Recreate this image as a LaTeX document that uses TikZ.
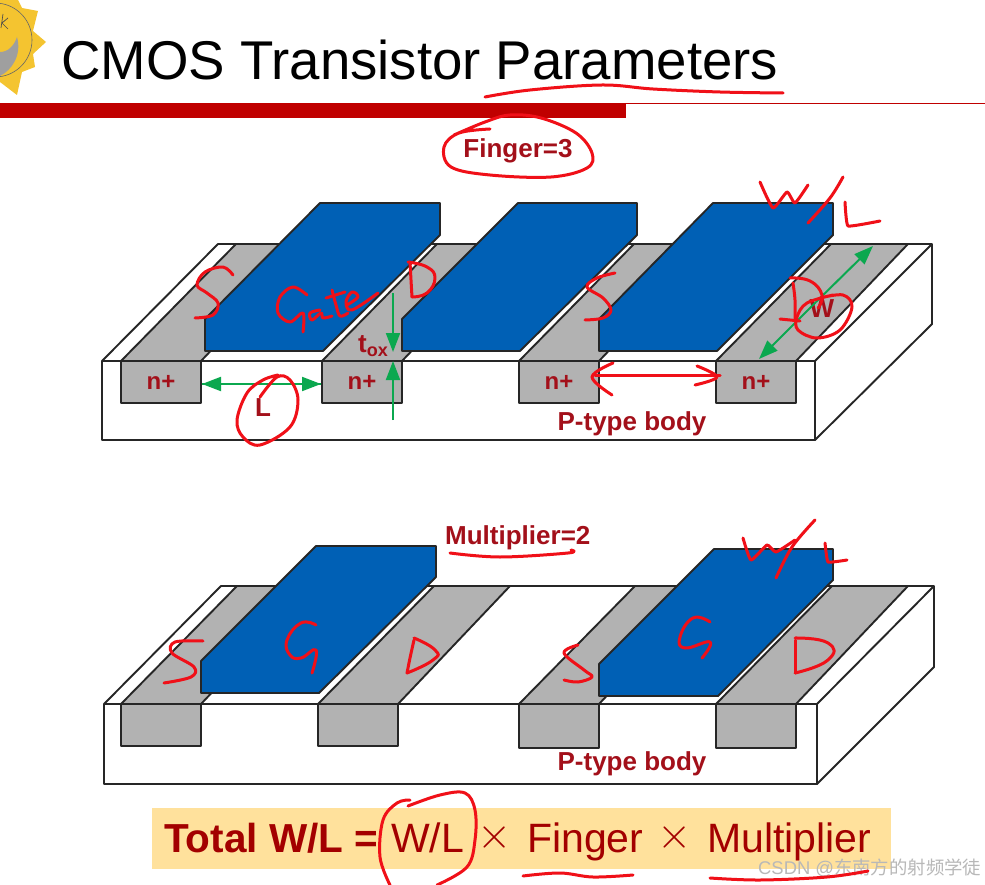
\documentclass[tikz,border=0pt]{standalone}
\usepackage{fontspec}
\setmainfont{Liberation Sans}
\newfontfamily\cjkfont{Noto Sans CJK SC}
\usetikzlibrary{arrows.meta}
\definecolor{dred}{HTML}{A3101A}
\definecolor{gateblue}{HTML}{0060B5}
\definecolor{stripgray}{HTML}{B2B2B2}
\definecolor{inkred}{HTML}{F01018}
\definecolor{barred}{HTML}{C00000}
\definecolor{gfill}{HTML}{FFE19C}
\definecolor{arrowgreen}{HTML}{0BA84F}
\definecolor{sunyellow}{HTML}{F4C430}
\tikzset{
  solid3d/.style={draw=black!85,line width=1.9pt,line join=round},
  bodyface/.style={solid3d,fill=white},
  stripface/.style={solid3d,fill=stripgray},
  gateface/.style={draw=black!85,line width=1.9pt,line join=round,fill=gateblue},
  ink/.style={draw=inkred,line width=3pt,line cap=round,line join=round},
  lbl/.style={text=dred,font=\bfseries\fontsize{26}{28}\selectfont,inner sep=0pt},
  nplus/.style={text=dred,font=\bfseries\fontsize{24}{26}\selectfont,inner sep=0pt},
  dimarrow/.style={draw=arrowgreen,line width=2pt,-{Triangle[length=19pt,width=14pt]}},
  ptxt/.style={text=barred!85!black,font=\fontsize{41}{44}\selectfont,inner sep=0pt,anchor=base west},
  timestxt/.style={text=barred!85!black,inner sep=0pt,anchor=center},
}
\begin{document}
\begin{tikzpicture}[x=1pt,y=-1pt]
\useasboundingbox (0,0) rectangle (985,885);
\clip (0,0) rectangle (985,885);
\fill[white] (0,0) rectangle (985,885);

% logo
\fill[sunyellow] (0,0) -- (18,0) -- (22,8) -- (38,11) -- (33,31) -- (46,42) -- (33,54) -- (35,67) -- (22,72) -- (17,95) -- (0,82) -- cycle;
\fill[sunyellow] (-5,40) circle[radius=37];
\draw[black!60,line width=.6pt] (-5,40) circle[radius=37];
\fill[gray!75] (17,37) .. controls (22,55) and (12,70) .. (0,76) -- (0,52) .. controls (8,52) and (14,46) .. (17,37) -- cycle;
\draw[black!70,line width=.7pt] (3,14) -- (1,28) (8,18) -- (2,23) -- (8,29);

% title
\node[anchor=base west,inner sep=0pt,font=\fontsize{54.6}{56}\selectfont] (title) at (61,80) {CMOS Transistor Parameters};
\fill[barred] (0,103) rectangle (626,118);
\draw[barred,line width=.8pt] (626,103) -- (985,103);

% ---------- top device ----------
\draw[bodyface] (102,361) -- (218,244) -- (932,244) -- (932,324) -- (815,440) -- (102,440) -- cycle;
\draw[solid3d] (102,361) -- (815,361) -- (932,244) (815,361) -- (815,440);
\foreach \xa/\xb in {121/201,322/402,519/599,716/796}{
  \draw[stripface] (\xa,361) -- ({\xa+115},244) -- ({\xb+112},244) -- (\xb,361) -- cycle;
  \draw[stripface] (\xa,361) rectangle (\xb,403);
}
\draw[gateface] (205,351) -- (205,319) -- (320,203) -- (440,203) -- (440,235) -- (323,351) -- cycle;
\draw[gateface] (402,351) -- (402,319) -- (518,203) -- (637,203) -- (637,235) -- (520,351) -- cycle;
\draw[gateface] (599,351) -- (599,319) -- (713,203) -- (833,203) -- (833,235) -- (717,351) -- cycle;

\node[nplus] (n1) at (161,382) {n+};
\node[nplus] (n2) at (362,382) {n+};
\node[nplus] (n3) at (559,382) {n+};
\node[nplus] (n4) at (756,382) {n+};
\node[lbl] (ptop) at (632,424) {P-type body};
\node[lbl] (finger) at (518,151) {Finger=3};
\node[lbl] (lenL) at (263,408) {L};
\node[lbl] (widW) at (822,309) {W};
\node[lbl,anchor=base west] (tox) at (358,352) {t\raisebox{-4pt}{\fontsize{18}{18}\selectfont ox}};

\coordinate (la) at (202,384); \coordinate (lb) at (321,384);
\coordinate (ta) at (393,293); \coordinate (tb) at (393,352);
\coordinate (tc) at (393,420); \coordinate (td) at (393,361);
\coordinate (wa) at (873,246); \coordinate (wb) at (759,359);
\coordinate (wmid) at (816,302);
\draw[dimarrow] (la) -- (lb);
\draw[dimarrow] (lb) -- (la);
\draw[dimarrow] (ta) -- (tb);
\draw[dimarrow] (tc) -- (td);
\draw[dimarrow] (wmid) -- (wa);
\draw[dimarrow] (wmid) -- (wb);

% ---------- bottom device ----------
\draw[bodyface] (104,704) -- (221,586) -- (934,586) -- (934,667) -- (817,784) -- (104,784) -- cycle;
\draw[solid3d] (104,704) -- (817,704) -- (934,586) (817,704) -- (817,784);
\foreach \xa/\xb/\yb in {121/201/746,318/398/746,519/599/748,716/796/748}{
  \draw[stripface] (\xa,704) -- ({\xa+116},586) -- ({\xb+112},586) -- (\xb,704) -- cycle;
  \draw[stripface] (\xa,704) rectangle (\xb,\yb);
}
\draw[gateface] (201,693) -- (201,661) -- (316,546) -- (436,546) -- (436,577) -- (319,693) -- cycle;
\draw[gateface] (599,696) -- (599,664) -- (714,549) -- (833,549) -- (833,580) -- (718,696) -- cycle;
\node[lbl] (pbot) at (632,764) {P-type body};
\node[lbl,anchor=base west] (mult) at (445,544) {Multiplier=2};

% ---------- formula ----------
\fill[gfill] (152,808) rectangle (891,869);
\node[ptxt,font=\bfseries\fontsize{40.5}{44}\selectfont] (tot) at (164,852) {Total W/L =};
\node[ptxt] (wl) at (391,852) {W/L};
\node[timestxt] (mul1) at (495,837) {\scalebox{4.4}{$\times$}};
\node[ptxt] (fing) at (527,852) {Finger};
\node[timestxt] (mul2) at (675,837) {\scalebox{4.4}{$\times$}};
\node[ptxt] (multi) at (707,852) {Multiplier};
\node[anchor=base west,inner sep=0pt,text=black!28,font=\fontsize{18.4}{20}\selectfont] (wmark) at (758,874) {CSDN @{\cjkfont 东南方的射频学徒}};

% ---------- handwriting ----------
% title underline and Finger ring
\draw[ink] plot[smooth,tension=.6] coordinates {(485,97) (530,90) (602,85) (653,89) (720,92) (783,93)};
\draw[ink] plot[smooth,tension=.6] coordinates {(490,129) (459,133) (444,147) (451,167) (490,175) (551,177) (587,168) (592,153) (576,133) (541,118) (510,115) (485,122) (454,135)};
% S Gate D
\draw[ink] plot[smooth,tension=.6] coordinates {(233,275) (223,267) (205,272) (197,285) (207,293) (218,303) (213,315) (195,318)};
\draw[ink] plot[smooth,tension=.6] coordinates {(307,295) (293,287) (280,297) (278,313) (290,322) (303,313) (303,332)};
\draw[ink] plot[smooth,tension=.6] coordinates {(320,310) (310,313) (312,320) (321,313) (323,318) (332,316)};
\draw[ink] plot[smooth,tension=.6] coordinates {(332,290) (336,305) (340,316) (348,313)};
\draw[ink] (326,298) -- (345,292);
\draw[ink] plot[smooth,tension=.6] coordinates {(347,305) (358,297) (352,292) (346,302) (352,310) (378,293)};
\draw[ink] plot[smooth,tension=.6] coordinates {(410,262) (411,280) (412,297)};
\draw[ink] plot[smooth,tension=.8] coordinates {(408,262) (427,267) (435,278) (427,293) (412,297)};
% L ring
\draw[ink] plot[smooth,tension=.6] coordinates {(260,397) (277,377) (290,380) (298,400) (290,427) (260,445) (243,437) (237,420) (247,393) (263,380) (278,375)};
% S third strip
\draw[ink] plot[smooth,tension=.6] coordinates {(615,273) (597,278) (587,287) (603,298) (611,310) (603,318) (585,320)};
% W / L
\draw[ink] plot[smooth,tension=.3] coordinates {(760,182) (773,208) (787,192) (795,203) (808,185)};
\draw[ink] plot[smooth,tension=.6] coordinates {(843,177) (830,198) (808,223)};
\draw[ink] plot[smooth,tension=.2] coordinates {(845,202) (848,226) (880,221)};
% D and W ring
\draw[ink] plot[smooth,tension=.8] coordinates {(790,278) (810,281) (822,295) (818,308)};
\draw[ink] plot[smooth,tension=.6] coordinates {(793,283) (795,300) (795,320)};
\draw[ink] (780,319) -- (800,321);
\draw[ink] plot[smooth,tension=.6] coordinates {(820,298) (843,295) (852,307) (840,330) (817,338) (798,330) (797,317) (807,303) (833,295)};
% red double arrow
\draw[ink] (595,375) -- (720,375);
\draw[ink] plot[smooth,tension=.6] coordinates {(613,363) (592,377) (612,395)};
\draw[ink] plot[smooth,tension=.6] coordinates {(697,366) (717,377) (695,385)};
% Multiplier underline
\draw[ink] plot[smooth,tension=.6] coordinates {(450,553) (500,557) (568,553) (571,550)};
% lower S G D
\draw[ink] plot[smooth,tension=.6] coordinates {(203,641) (175,642) (172,653) (194,667) (191,677) (164,683)};
\draw[ink] plot[smooth,tension=.8] coordinates {(316,625) (301,623) (287,640) (290,655) (301,658) (316,650) (312,673)};
\draw[ink] plot[smooth,tension=.6] coordinates {(414,640) (410,658) (407,673)};
\draw[ink] plot[smooth,tension=.9] coordinates {(414,638) (435,650) (433,660) (407,673)};
\draw[ink] plot[smooth,tension=.6] coordinates {(578,645) (564,653) (584,670) (592,677) (578,682) (564,680)};
\draw[ink] plot[smooth,tension=.8] coordinates {(710,622) (693,618) (680,637) (685,648) (710,642) (702,658)};
\draw[ink] plot[smooth,tension=.6] coordinates {(795,640) (795,660) (795,673)};
\draw[ink] plot[smooth,tension=.9] coordinates {(795,638) (828,643) (828,660) (795,673)};
% lower W/L
\draw[ink] plot[smooth,tension=.3] coordinates {(743,538) (751,560) (767,545) (776,552) (795,540)};
\draw[ink] plot[smooth,tension=.6] coordinates {(815,520) (792,547) (776,578)};
\draw[ink] plot[smooth,tension=.2] coordinates {(825,543) (828,562) (847,560)};
% formula marks
\draw[ink] plot[smooth,tension=.6] coordinates {(410,800) (397,803) (383,820) (380,857) (390,885)};
\draw[ink] plot[smooth,tension=.6] coordinates {(408,806) (440,795) (465,793) (475,810) (475,840) (467,867) (437,885)};
\draw[ink] plot[smooth,tension=.6] coordinates {(523,876) (560,873) (593,877) (633,875)};
\draw[ink] plot[smooth,tension=.6] coordinates {(710,878) (760,880) (827,877) (868,871)};
\end{tikzpicture}
\end{document}
